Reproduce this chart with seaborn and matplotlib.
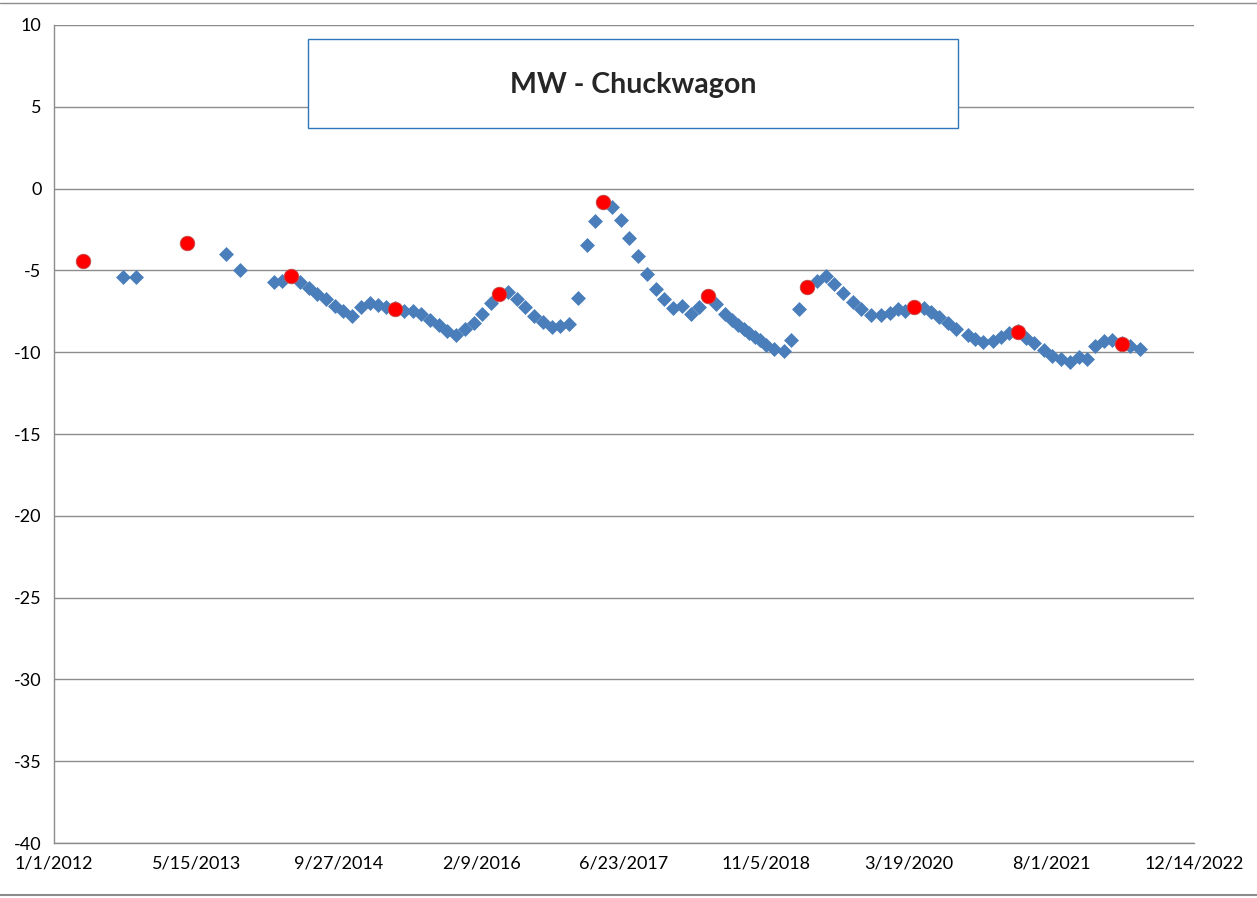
import pandas as pd
import numpy as np
import seaborn as sns
import matplotlib.pyplot as plt
import matplotlib.dates as mdates
from matplotlib.lines import Line2D
from matplotlib.patches import Rectangle

# annual (April) readings - red dots
red_dates = ["2012-04-10", "2013-04-13", "2014-04-13", "2015-04-13", "2016-04-12",
             "2017-04-11", "2018-04-12", "2019-03-27", "2020-04-07", "2021-04-06",
             "2022-04-04"]
red_values = [-4.45, -3.33, -5.35, -7.35, -6.47, -0.84, -6.57, -6.03, -7.25, -8.74, -9.49]

# monthly readings - blue diamonds
blue_dates = [
    "2012-08-31", "2012-10-14", "2013-08-26", "2013-10-14", "2014-02-12", "2014-03-12",
    "2014-04-12", "2014-05-12", "2014-06-12", "2014-07-12", "2014-08-12", "2014-09-12",
    "2014-10-12", "2014-11-12", "2014-12-12", "2015-01-12", "2015-02-12", "2015-03-12",
    "2015-04-12", "2015-05-12", "2015-06-12", "2015-07-12", "2015-08-12", "2015-09-12",
    "2015-10-12", "2015-11-12", "2015-12-12", "2016-01-12", "2016-02-12", "2016-03-12",
    "2016-04-12", "2016-05-12", "2016-06-12", "2016-07-12", "2016-08-12", "2016-09-12",
    "2016-10-12", "2016-11-12", "2016-12-12", "2017-01-12", "2017-02-12", "2017-03-12",
    "2017-04-12", "2017-05-12", "2017-06-12", "2017-07-12", "2017-08-12", "2017-09-12",
    "2017-10-12", "2017-11-12", "2017-12-12", "2018-01-12", "2018-02-12", "2018-03-12",
    "2018-04-12", "2018-05-12", "2018-06-12", "2018-07-08", "2018-07-28", "2018-08-17",
    "2018-09-06", "2018-09-24", "2018-10-14", "2018-11-02", "2018-12-02", "2019-01-07",
    "2019-01-30", "2019-02-26", "2019-03-27", "2019-05-01", "2019-06-03", "2019-07-01",
    "2019-08-01", "2019-09-06", "2019-10-04", "2019-11-07", "2019-12-12", "2020-01-11",
    "2020-02-08", "2020-03-06", "2020-04-07", "2020-05-10", "2020-06-05", "2020-07-02",
    "2020-08-02", "2020-09-01", "2020-10-11", "2020-11-06", "2020-12-04", "2021-01-06",
    "2021-02-03", "2021-03-04", "2021-04-06", "2021-05-04", "2021-05-31", "2021-07-05",
    "2021-08-01", "2021-09-02", "2021-10-04", "2021-11-05", "2021-12-04", "2021-12-31",
    "2022-02-01", "2022-03-02", "2022-04-04", "2022-05-05", "2022-06-07",
]
blue_values = [
    -5.40, -5.40, -4.02, -4.96, -5.72, -5.66,
    -5.32, -5.68, -6.08, -6.45, -6.76, -7.17,
    -7.49, -7.78, -7.23, -6.97, -7.11, -7.23,
    -7.31, -7.46, -7.46, -7.68, -8.02, -8.35,
    -8.68, -8.94, -8.58, -8.19, -7.66, -6.97,
    -6.43, -6.35, -6.74, -7.23, -7.76, -8.13,
    -8.44, -8.39, -8.29, -6.70, -3.45, -2.01,
    -0.82, -1.12, -1.90, -2.99, -4.15, -5.23,
    -6.14, -6.74, -7.27, -7.15, -7.68, -7.21,
    -6.56, -7.03, -7.64, -8.02, -8.33, -8.58,
    -8.80, -9.05, -9.27, -9.56, -9.83, -9.92,
    -9.23, -7.37, -5.99, -5.64, -5.37, -5.82,
    -6.37, -6.94, -7.37, -7.74, -7.70, -7.58,
    -7.35, -7.46, -7.21, -7.27, -7.52, -7.82,
    -8.19, -8.56, -8.94, -9.19, -9.37, -9.33,
    -9.05, -8.84, -8.70, -9.13, -9.45, -9.86,
    -10.23, -10.43, -10.60, -10.31, -10.39, -9.60,
    -9.29, -9.25, -9.45, -9.62, -9.82,
]

title = "MW - Chuckwagon"
x_start, x_end = "2012-01-01", "2022-12-14"
y_ticks = list(range(-40, 11, 5))

blue = pd.DataFrame({"date": pd.to_datetime(blue_dates), "value": blue_values})
red = pd.DataFrame({"date": pd.to_datetime(red_dates), "value": red_values})

sns.set_style("white")
plt.rcParams["font.family"] = ["Lato", "DejaVu Sans"]

fig = plt.figure(figsize=(12.57, 8.98), dpi=100)
ax = fig.add_axes([0.04296, 0.0612, 0.90694, 0.911])

sns.scatterplot(data=blue, x="date", y="value", marker="D", s=58,
                color="#4A7EBB", linewidth=0, ax=ax, zorder=3)
sns.scatterplot(data=red, x="date", y="value", marker="o", s=110,
                color="#FF0000", edgecolor="#C0504D", linewidth=0.6, ax=ax, zorder=4)

ax.set_xlim(pd.Timestamp(x_start), pd.Timestamp(x_end))
ax.set_ylim(-40, 10)

x_ticks = pd.date_range(x_start, periods=9, freq="500D")
ax.set_xticks(x_ticks)
ax.set_xticklabels([f"{d.month}/{d.day}/{d.year}" for d in x_ticks])
ax.set_yticks(y_ticks)
ax.set_yticklabels([str(v) for v in y_ticks])

ax.grid(axis="y", color="#8C8C8C", linewidth=1.0)
ax.grid(axis="x", visible=False)
ax.set_axisbelow(True)
for side in ["top", "right"]:
    ax.spines[side].set_visible(False)
for side in ["left", "bottom"]:
    ax.spines[side].set_color("#8C8C8C")
    ax.spines[side].set_linewidth(1.0)
ax.tick_params(axis="both", which="major", direction="out", length=5, width=1.0,
               color="#8C8C8C", labelsize=13, labelcolor="black", pad=4)
ax.set_xlabel("")
ax.set_ylabel("")

# title box
fig.patches.append(Rectangle((0.245, 0.8575), 0.517, 0.0991, transform=fig.transFigure,
                             facecolor="white", edgecolor="#2F77BC", linewidth=1.0, zorder=5))
fig.text(0.5036, 0.9053, title, ha="center", va="center", fontsize=20.5,
         fontweight="bold", zorder=6)

# outer frame lines
fig.add_artist(Line2D([0, 1], [0.997, 0.997], color="#8C8C8C", linewidth=1.0))
fig.add_artist(Line2D([0, 1], [0.003, 0.003], color="#8C8C8C", linewidth=1.5))

fig.savefig("out.png", dpi=100)
